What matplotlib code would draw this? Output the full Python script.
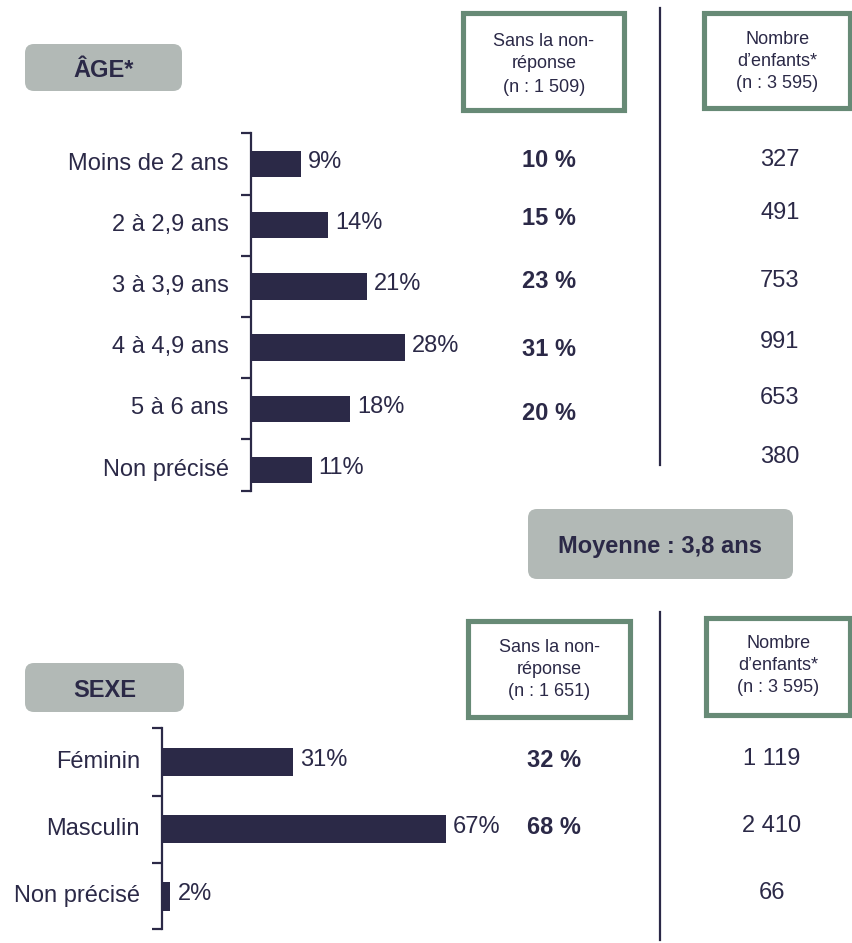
import matplotlib
matplotlib.use("Agg")
import matplotlib.pyplot as plt
from matplotlib.patches import FancyBboxPatch, Rectangle
from matplotlib.transforms import blended_transform_factory as blend, ScaledTranslation

plt.rcParams['font.family'] = ['Liberation Sans', 'DejaVu Sans']

# donnees
age_cats = ["Moins de 2 ans", "2 à 2,9 ans", "3 à 3,9 ans", "4 à 4,9 ans", "5 à 6 ans", "Non précisé"]
age_pct = [9, 14, 21, 28, 18, 11]
age_pct_sans_nr = ["10 %", "15 %", "23 %", "31 %", "20 %"]
age_nb = ["327", "491", "753", "991", "653", "380"]

sexe_cats = ["Féminin", "Masculin", "Non précisé"]
sexe_pct = [31, 67, 2]
sexe_pct_sans_nr = ["32 %", "68 %"]
sexe_nb = ["1 119", "2 410", "66"]

n_age_nr = "1 509"
n_sexe_nr = "1 651"
n_total = "3 595"
moyenne = "Moyenne : 3,8 ans"

NAVY = "#2b2947"
GRIS = "#b2b9b6"
VERT = "#678a76"
W, H = 853, 943

fig = plt.figure(figsize=(W / 100, H / 100), dpi=100)

# axe de fond en pixels (y vers le bas)
bg = fig.add_axes([0, 0, 1, 1])
bg.set_xlim(0, W)
bg.set_ylim(H, 0)
bg.axis("off")


def pix_axes(x0, y0, x1, y1):
    return fig.add_axes([x0 / W, 1 - y1 / H, (x1 - x0) / W, (y1 - y0) / H])


def boite_grise(x0, y0, x1, y1, txt):
    bg.add_patch(FancyBboxPatch((x0, y0), x1 - x0, y1 - y0,
                                boxstyle="round,pad=0,rounding_size=9",
                                fc=GRIS, ec="none"))
    bg.text((x0 + x1) / 2, (y0 + y1) / 2 + 3, txt, ha="center", va="center",
            fontsize=17, fontweight="bold", color=NAVY)


def boite_verte(x0, y0, x1, y1, lignes, ys):
    bg.add_patch(Rectangle((x0, y0), x1 - x0, y1 - y0, fc="white", ec=VERT, lw=3.7))
    for l, y in zip(lignes, ys):
        bg.text((x0 + x1) / 2, y + 1, l, ha="center", va="center", fontsize=13, color=NAVY)


def barres(ax, cats, vals, ppu, top_extra, bot_extra, ticks):
    n = len(cats)
    ypos = list(range(n))
    ax.barh(ypos, vals, height=0.43, color=NAVY)
    ax.set_ylim(n - 1 + bot_extra, -top_extra)
    ax.set_xlim(0, ppu)
    for s in ["top", "right", "bottom"]:
        ax.spines[s].set_visible(False)
    ax.spines["left"].set_color(NAVY)
    ax.spines["left"].set_linewidth(1.6)
    ax.set_xticks([])
    ax.set_yticks(ypos)
    ax.set_yticklabels(cats, fontsize=17, color=NAVY)
    ax.tick_params(axis="y", which="major", length=0, pad=16)
    up = ScaledTranslation(0, 3 / 100, fig.dpi_scale_trans)
    for lab in ax.get_yticklabels():
        lab.set_transform(lab.get_transform() + up)
    ax.set_yticks(ticks + [n - 1 + bot_extra], minor=True)
    ax.tick_params(axis="y", which="minor", length=7, width=1.6, color=NAVY)
    for y, v in zip(ypos, vals):
        ax.annotate(f"{v}%", (v, y), xytext=(7, 2), textcoords="offset pixels",
                    ha="left", va="center", fontsize=17, color=NAVY)


# ---- AGE ----
boite_grise(25, 44, 182, 91, "ÂGE*")
boite_verte(463.5, 12.5, 624.5, 109.5,
            ["Sans la non-", "réponse", f"(n : {n_age_nr})"], [40, 63, 86])
boite_verte(704.5, 12.5, 850.5, 107.5,
            ["Nombre", "d\u2019enfants*", f"(n : {n_total})"], [38, 60, 83])
bg.plot([660, 660], [8, 465], color=NAVY, lw=1.6)

ax1 = pix_axes(251, 133, 451, 491)
barres(ax1, age_cats, age_pct, 200 / 5.5, 0.507, 0.343, [-0.5, 0.5, 1.5, 2.5, 3.5, 4.5])

tr1 = blend(bg.transData, ax1.transData)
nudge_pct = [-4, -7, -5, 2, 5]
for i, (t, d) in enumerate(zip(age_pct_sans_nr, nudge_pct)):
    bg.annotate(t, (549, i), xycoords=tr1, xytext=(0, -d), textcoords="offset pixels",
                ha="center", va="center", fontsize=17, fontweight="bold", color=NAVY)
nudge_nb = [-4, -12, -5, -6, -11, -13]
for i, (t, d) in enumerate(zip(age_nb, nudge_nb)):
    bg.annotate(t, (780, i), xycoords=tr1, xytext=(0, -d), textcoords="offset pixels",
                ha="center", va="center", fontsize=17, color=NAVY)

boite_grise(528, 509, 793, 579, moyenne)

# ---- SEXE ----
boite_grise(25, 663, 184, 712, "SEXE")
boite_verte(468.5, 620.5, 630.5, 716.5,
            ["Sans la non-", "réponse", f"(n : {n_sexe_nr})"], [647, 669, 691])
boite_verte(706.5, 617.5, 850.5, 714.5,
            ["Nombre", "d\u2019enfants*", f"(n : {n_total})"], [643, 664, 686])
bg.plot([660, 660], [612, 940], color=NAVY, lw=1.6)

ax2 = pix_axes(162, 728, 462, 929)
barres(ax2, sexe_cats, sexe_pct, 300 / 4.24, 0.507, 0.49, [-0.5, 0.5, 1.5])

tr2 = blend(bg.transData, ax2.transData)
for i, t in enumerate(sexe_pct_sans_nr):
    bg.annotate(t, (554, i), xycoords=tr2, xytext=(0, 2), textcoords="offset pixels",
                ha="center", va="center", fontsize=17, fontweight="bold", color=NAVY)
for i, t in enumerate(sexe_nb):
    bg.annotate(t, (772, i), xycoords=tr2, xytext=(0, 3), textcoords="offset pixels",
                ha="center", va="center", fontsize=17, color=NAVY)

fig.savefig("out.png", dpi=100)
